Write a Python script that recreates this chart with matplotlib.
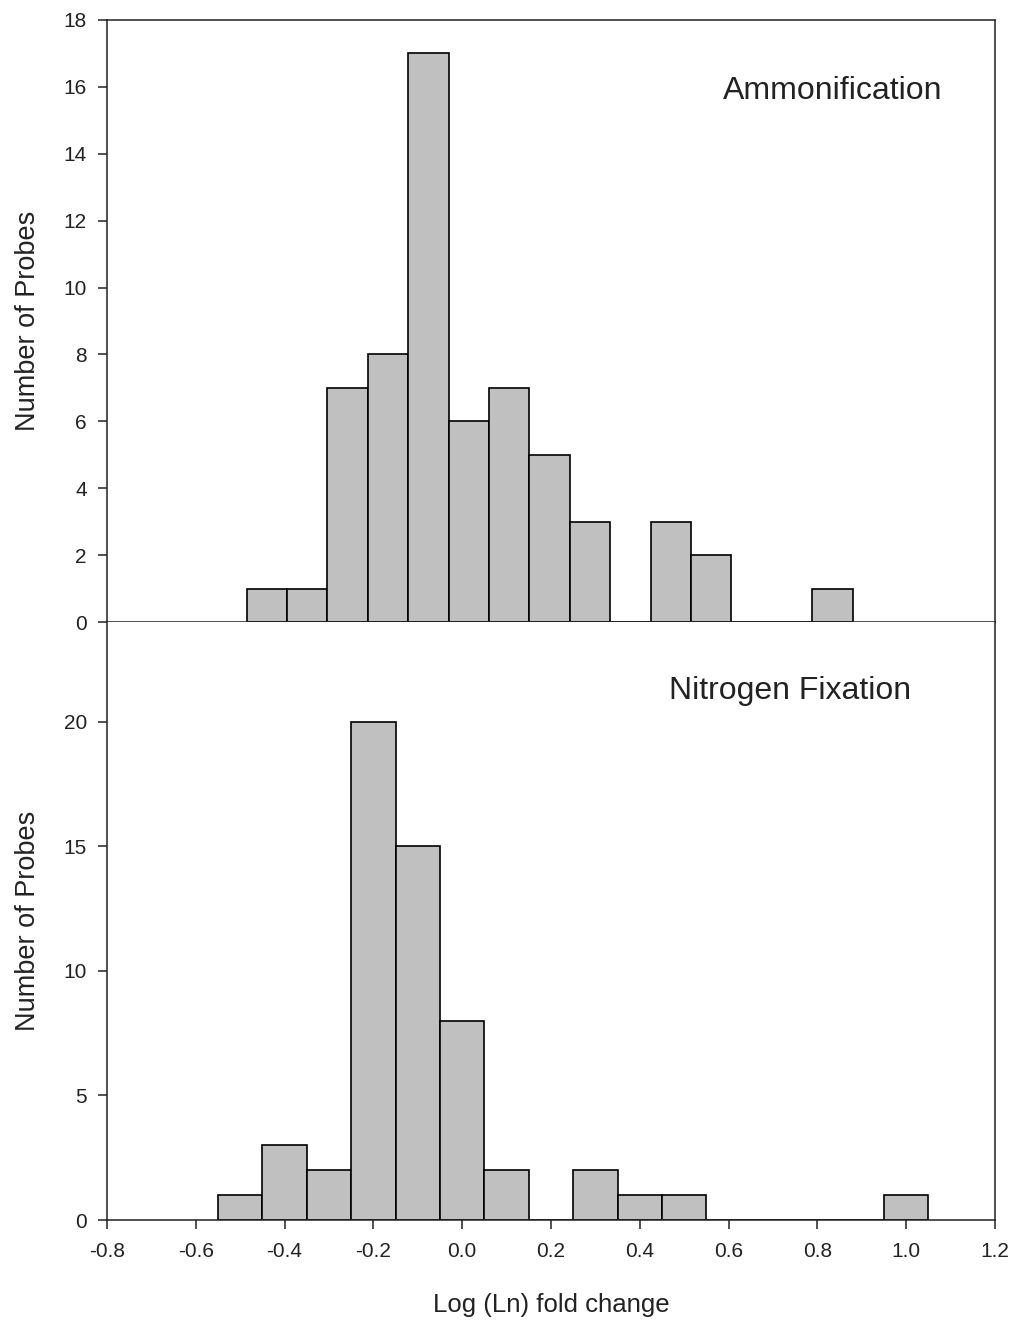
import numpy as np
import matplotlib
matplotlib.use('Agg')
import matplotlib.pyplot as plt

plt.rcParams['font.family'] = ['Liberation Sans', 'DejaVu Sans']

# Datos: centros de clase y conteos
amon_centros = [-0.440, -0.349, -0.258, -0.167, -0.076, 0.015, 0.106, 0.197,
                0.288, 0.379, 0.470, 0.561, 0.652, 0.743, 0.834]
amon_conteos = [1, 1, 7, 8, 17, 6, 7, 5, 3, 0, 3, 2, 0, 0, 1]
amon_ancho = 0.091

nfix_centros = [-0.5, -0.4, -0.3, -0.2, -0.1, 0.0, 0.1, 0.2, 0.3, 0.4, 0.5,
                0.6, 0.7, 0.8, 0.9, 1.0]
nfix_conteos = [1, 3, 2, 20, 15, 8, 2, 0, 2, 1, 1, 0, 0, 0, 0, 1]
nfix_ancho = 0.1

xticks = [-0.8, -0.6, -0.4, -0.2, 0.0, 0.2, 0.4, 0.6, 0.8, 1.0, 1.2]

fig = plt.figure(figsize=(10.18, 13.24), dpi=100)
ax1 = fig.add_axes([0.1051, 0.5302, 0.8723, 0.4547])
ax2 = fig.add_axes([0.1051, 0.0785, 0.8723, 0.4517])

def estilo(ax):
    for s in ax.spines.values():
        s.set_linewidth(1.1)
        s.set_color('#222222')
    ax.tick_params(axis='y', direction='out', length=6.5, width=1.1,
                   labelsize=15, pad=8, colors='#222222')
    ax.set_xlim(-0.8, 1.2)

# Panel superior
ax1.bar(amon_centros, amon_conteos, width=amon_ancho, color='#c0c0c0',
        edgecolor='black', linewidth=1.2)
estilo(ax1)
ax1.set_ylim(0, 18)
ax1.set_yticks(range(0, 19, 2))
ax1.set_xticks([])
ax1.set_ylabel('Number of Probes', fontsize=19.5, color='#222222', labelpad=16)
ax1.text(0.941, 0.882, 'Ammonification', transform=ax1.transAxes,
         ha='right', va='center', fontsize=23, color='#222222')

# Panel inferior
ax2.bar(nfix_centros, nfix_conteos, width=nfix_ancho, color='#c0c0c0',
        edgecolor='black', linewidth=1.2)
estilo(ax2)
ax2.set_ylim(0, 24)
ax2.set_yticks([0, 5, 10, 15, 20])
ax2.set_xticks(xticks)
ax2.set_xticklabels(['%.1f' % t for t in xticks])
ax2.tick_params(axis='x', direction='out', length=6.5, width=1.1,
                labelsize=15, pad=9, colors='#222222')
ax2.spines['top'].set_visible(False)
ax2.set_ylabel('Number of Probes', fontsize=19.5, color='#222222', labelpad=16)
ax2.set_xlabel('Log (Ln) fold change', fontsize=18.5, color='#222222', labelpad=23)
ax2.text(0.905, 0.885, 'Nitrogen Fixation', transform=ax2.transAxes,
         ha='right', va='center', fontsize=23, color='#222222')

plt.savefig('out.png', dpi=100)
